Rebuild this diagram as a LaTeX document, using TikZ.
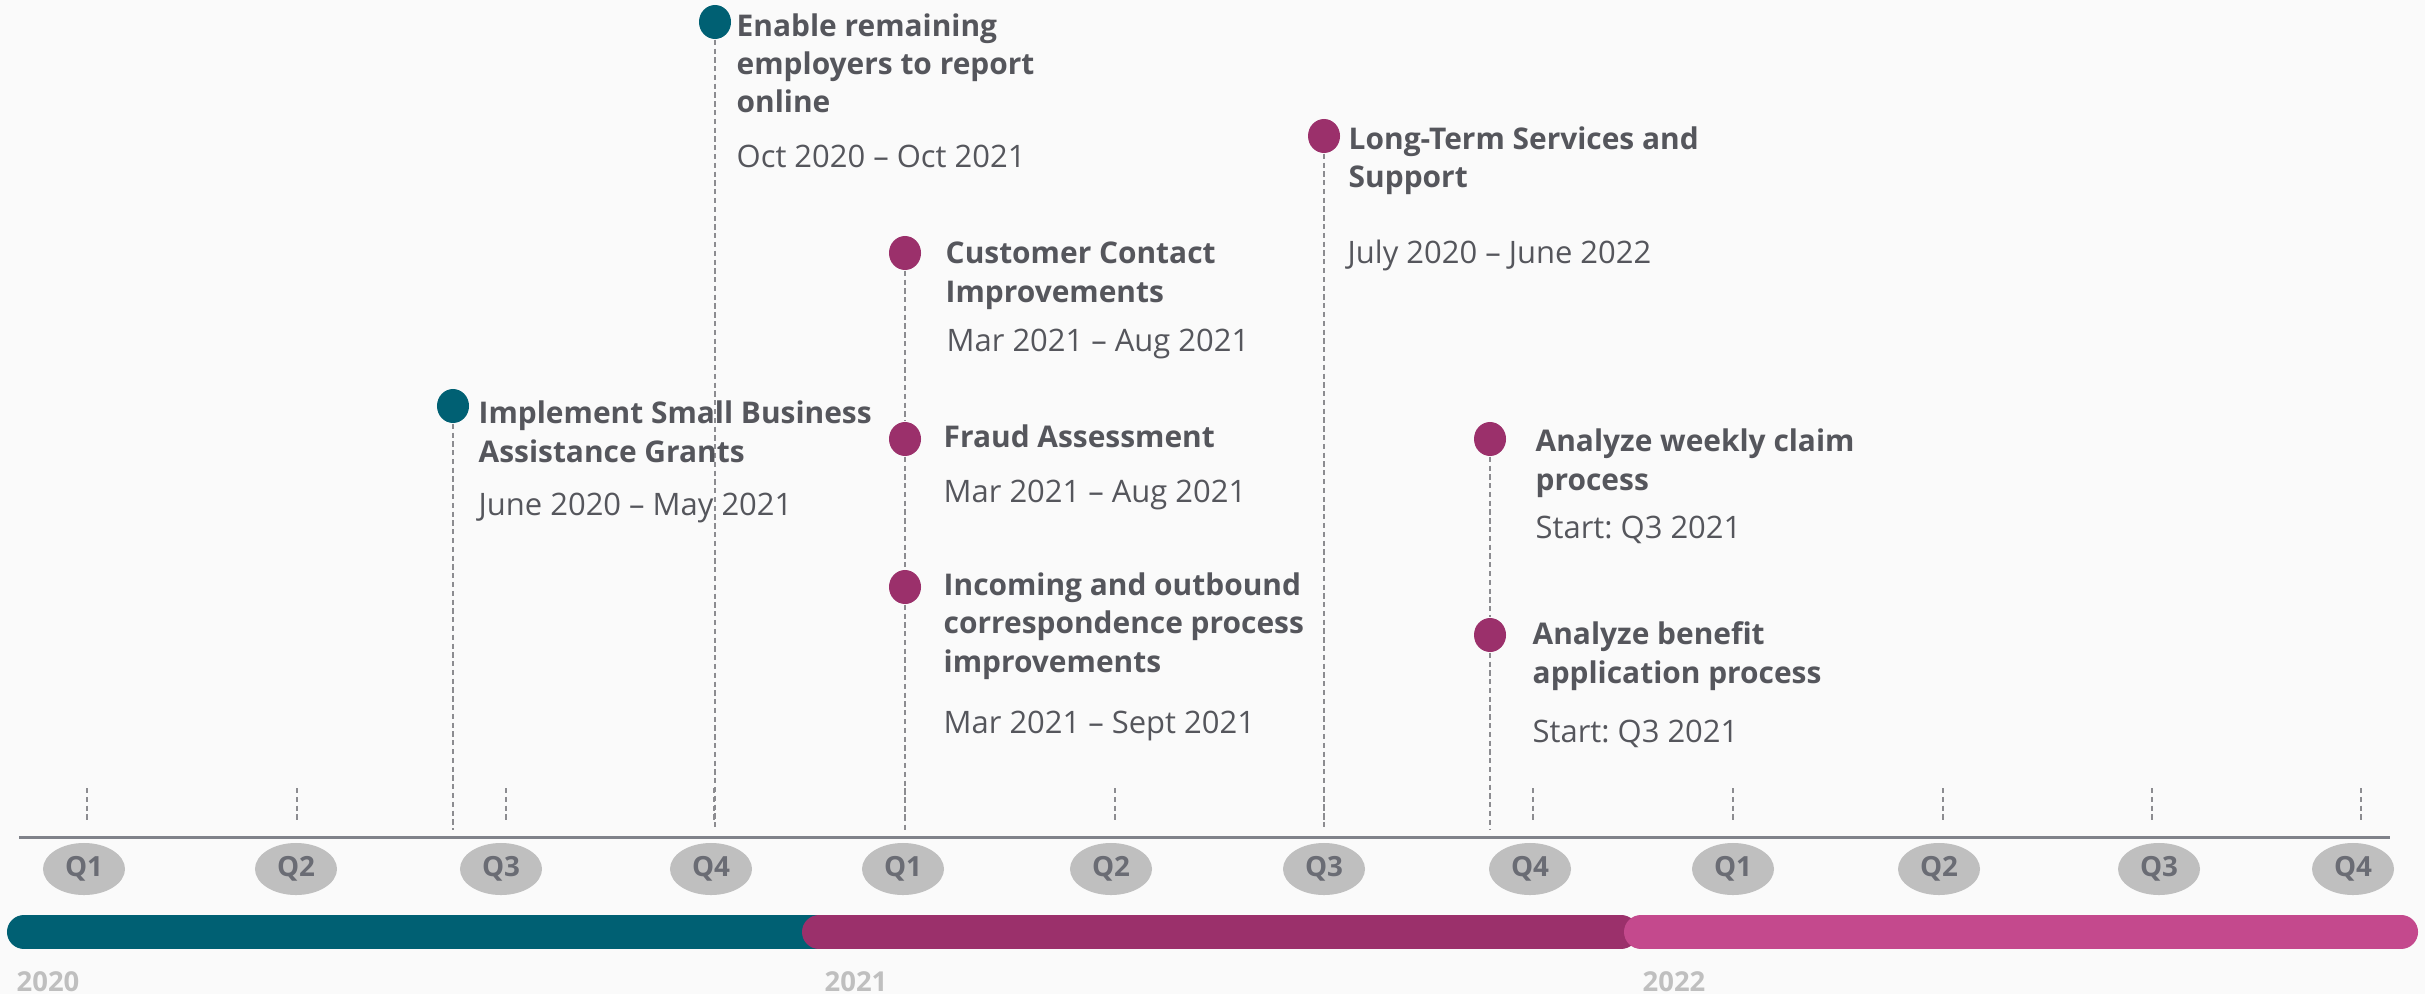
\documentclass[tikz,border=0pt]{standalone}
\usepackage{fontspec}
\setmainfont{Open Sans}
\usetikzlibrary{shapes.geometric}
\frenchspacing

\definecolor{tlteal}{HTML}{006073}
\definecolor{tlplum}{HTML}{9B306B}
\definecolor{tlpink}{HTML}{C4498D}
\definecolor{tlaxis}{HTML}{80828A}
\definecolor{tlbadge}{HTML}{BFBFBF}
\definecolor{tlbadgetext}{HTML}{6A6C74}
\definecolor{tltext}{HTML}{55565C}
\definecolor{tlstem}{HTML}{8C8C90}
\definecolor{tlback}{HTML}{FAFAFA}

\begin{document}
\begin{tikzpicture}[x=0.01cm, y=-0.01cm,
    milestone/.style={ellipse, fill=#1, minimum width=0.32cm, minimum height=0.34cm, inner sep=0pt},
    stem/.style={tlstem, line width=0.4pt, dash pattern=on 1.5pt off 1pt},
    task/.style={anchor=base west, inner sep=0pt, align=left, text=tltext,
        font=\fontsize{8.5}{10.9}\selectfont\bfseries},
    span/.style={anchor=base west, inner sep=0pt, text=tltext, font=\fontsize{8.8}{11}\selectfont},
    quarter/.style={ellipse, fill=tlbadge, minimum width=0.82cm, minimum height=0.52cm, inner sep=0pt,
        text=tlbadgetext, font=\fontsize{7.9}{8}\selectfont\bfseries},
    yearlabel/.style={anchor=base west, inner sep=0pt, text=tlbadge, font=\fontsize{7.8}{8}\selectfont\bfseries},
    band/.style={line width=0.34cm, line cap=round}]
\useasboundingbox (0,0) rectangle (2425,994);
\fill[tlback] (0,0) rectangle (2425,994);

\draw[tlaxis, line width=0.9pt] (19,837.5) -- (2390,837.5);
\coordinate (base) at (0,830);
\foreach \x in {87, 297, 506, 714, 905, 1115, 1324, 1533, 1733, 1943, 2152, 2361}
    \draw[stem] (\x,788) -- (\x,822);
\foreach \x/\q [count=\i] in {84/Q1, 296/Q2, 501/Q3, 711/Q4, 903/Q1, 1111/Q2,
        1324/Q3, 1530/Q4, 1733/Q1, 1939/Q2, 2159/Q3, 2353/Q4}
    \node[quarter] (q\i) at (\x,869) {\q};

\draw[band, tlteal] (24,932) -- (821,932);
\draw[band, tlplum] (819,932) -- (1621,932);
\draw[band, tlpink] (1641,932) -- (2401,932);
\node[yearlabel] (y2020) at (16,991) {2020};
\node[yearlabel] (y2021) at (824,991) {2021};
\node[yearlabel] (y2022) at (1642,991) {2022};

\node[milestone=tlteal] (grants) at (453,406) {};
\node[milestone=tlteal] (online) at (715,22) {};
\node[milestone=tlplum] (contact) at (905,253) {};
\node[milestone=tlplum] (fraud) at (905,439) {};
\node[milestone=tlplum] (mail) at (905,587) {};
\node[milestone=tlplum] (ltss) at (1324,136) {};
\node[milestone=tlplum] (weekly) at (1490,439) {};
\node[milestone=tlplum] (benefit) at (1490,635) {};

\draw[stem] (grants) -- (grants |- base);
\draw[stem] (online) -- (online |- base);
\draw[stem] (contact) -- (fraud) -- (mail) -- (mail |- base);
\draw[stem] (ltss) -- (ltss |- base);
\draw[stem] (weekly) -- (benefit) -- (benefit |- base);

\node[task] (grants-t) at (478,462) {Implement Small Business\\Assistance Grants};
\node[span] (grants-d) at (478,515) {June 2020 – May 2021};
\node[task] (online-t) at (736,113) {Enable remaining\\employers to report\\online};
\node[span] (online-d) at (736,167) {Oct 2020 – Oct 2021};
\node[task] (contact-t) at (945,302) {Customer Contact\\Improvements};
\node[span] (contact-d) at (946,351) {Mar 2021 – Aug 2021};
\node[task] (fraud-t) at (943,447) {Fraud Assessment};
\node[span] (fraud-d) at (943,502) {Mar 2021 – Aug 2021};
\node[task] (mail-t) at (943,672) {Incoming and outbound\\correspondence process\\improvements};
\node[span] (mail-d) at (943,733) {Mar 2021 – Sept 2021};
\node[task] (ltss-t) at (1348,188) {Long-Term Services and\\Support};
\node[span] (ltss-d) at (1347,263) {July 2020 – June 2022};
\node[task] (weekly-t) at (1535,490) {Analyze weekly claim\\process};
\node[span] (weekly-d) at (1535,538) {Start: Q3 2021};
\node[task] (benefit-t) at (1532,683) {Analyze benefit\\application process};
\node[span] (benefit-d) at (1532,742) {Start: Q3 2021};
\end{tikzpicture}
\end{document}
